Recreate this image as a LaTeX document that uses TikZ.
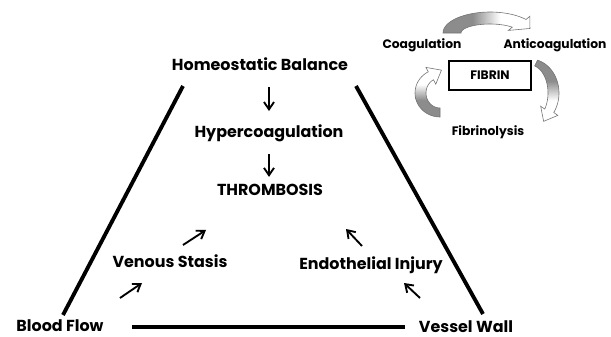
\documentclass[tikz,border=0pt]{standalone}
\usepackage{fontspec}
\setmainfont{Poppins}
\usepackage{tikz}
\usetikzlibrary{arrows.meta,calc,positioning}

% grey tail fading to white head
\pgfdeclarehorizontalshading{arrowfade}{100bp}{color(0bp)=(black!45); color(42bp)=(black!45); color(58bp)=(white); color(100bp)=(white)}

% bent block arrow: [style]{cx}{cy}{outer xr}{outer yr}{inner xr}{inner yr}{start}{end}
\newcommand{\bentarrow}[9][]{%
  \pgfmathsetmacro\bxm{(#4+#6)/2}%
  \pgfmathsetmacro\bym{(#5+#7)/2}%
  \pgfmathsetmacro\bsg{(#9>#8)*2-1}%
  \pgfmathsetmacro\bnn{sqrt((\bxm*sin(#9))^2+(\bym*cos(#9))^2)}%
  \pgfmathsetmacro\btx{#2+\bxm*cos(#9)-\bsg*12*\bxm*sin(#9)/\bnn}%
  \pgfmathsetmacro\bty{#3+\bym*sin(#9)+\bsg*12*\bym*cos(#9)/\bnn}%
  \pgfmathsetmacro\bax{#2+(#4+5)*cos(#9)}%
  \pgfmathsetmacro\bay{#3+(#5+5)*sin(#9)}%
  \pgfmathsetmacro\bix{#2+(#6-5)*cos(#9)}%
  \pgfmathsetmacro\biy{#3+(#7-5)*sin(#9)}%
  \path[#1] plot[domain=#8:#9, samples=25, variable=\t] ({#2+#4*cos(\t)},{#3+#5*sin(\t)})
    -- (\bax,\bay) -- (\btx,\bty) -- (\bix,\biy)
    -- plot[domain=#9:#8, samples=25, variable=\t] ({#2+#6*cos(\t)},{#3+#7*sin(\t)}) -- cycle;
}

\begin{document}
\begin{tikzpicture}[
    x=0.03cm, y=-0.03cm,
    term/.style={font=\bfseries\fontsize{13.6}{15}\selectfont, inner sep=1pt},
    minor/.style={font=\bfseries\fontsize{10.5}{12}\selectfont, inner sep=1pt},
    wall/.style={line width=3.3pt},
    arrow/.style={-{Straight Barb[length=2.2mm,width=3mm]}, line width=1.6pt},
    cyclearrow/.style={draw=black!55, line width=0.5pt, shading=arrowfade}
]
    \useasboundingbox (0,0) rectangle (611,337);

    % Virchow triad
    \node[term] (hb) at (260,64) {Homeostatic Balance};
    \node[term] (hc) at (269,133) {Hypercoagulation};
    \node[term] (th) at (270,190) {THROMBOSIS};
    \node[term] (vs) at (170,261) {Venous Stasis};
    \node[term] (ei) at (371,265) {Endothelial Injury};
    \node[term] (bf) at (60,326) {Blood Flow};
    \node[term] (vw) at (466,327) {Vessel Wall};

    % walls of the trapezoid
    \coordinate (tl) at (183,86);
    \coordinate (bl) at (63,315);
    \coordinate (tr) at (356,86);
    \coordinate (br) at (483,314);
    \coordinate (fl) at (132,327);
    \coordinate (fr) at (405,327);
    \draw[wall] (tl) -- (bl);
    \draw[wall] (tr) -- (br);
    \draw[wall] (fl) -- (fr);

    % downward chain
    \draw[arrow, shorten <=0.45cm, shorten >=0.36cm] (hb.south -| hc.north) -- (hc.north);
    \draw[arrow, shorten <=0.33cm, shorten >=0.18cm] (hc.south) -- (th.north -| hc.south);

    % arrows up to thrombosis
    \coordinate (bf-a) at (120,298);
    \coordinate (bf-b) at (142,283);
    \coordinate (vs-a) at (183,245);
    \coordinate (vs-b) at (206,230);
    \coordinate (vw-a) at (420,298);
    \coordinate (vw-b) at (404,283);
    \coordinate (ei-a) at (362,246);
    \coordinate (ei-b) at (346,229);
    \draw[arrow] (bf-a) -- (bf-b);
    \draw[arrow] (vs-a) -- (vs-b);
    \draw[arrow] (vw-a) -- (vw-b);
    \draw[arrow] (ei-a) -- (ei-b);

    % fibrin cycle
    \node[draw, line width=0.9pt, minimum width=2.46cm, minimum height=0.87cm,
          font=\bfseries\fontsize{10.5}{12}\selectfont] (fib) at (490,75.5) {FIBRIN};
    \node[minor] (co) at (422,45) {Coagulation};
    \node[minor] (ac) at (555,45) {Anticoagulation};
    \node[minor] (fy) at (488,132) {Fibrinolysis};
    \bentarrow[cyclearrow, shading angle=0]{490}{33}{47}{21}{29}{9}{180}{320}
    \bentarrow[cyclearrow, shading angle=-90]{530}{93}{29}{34}{18}{28}{-75}{35}
    \bentarrow[cyclearrow, shading angle=90]{440}{93}{25}{24}{14}{15}{90}{242}
\end{tikzpicture}
\end{document}
